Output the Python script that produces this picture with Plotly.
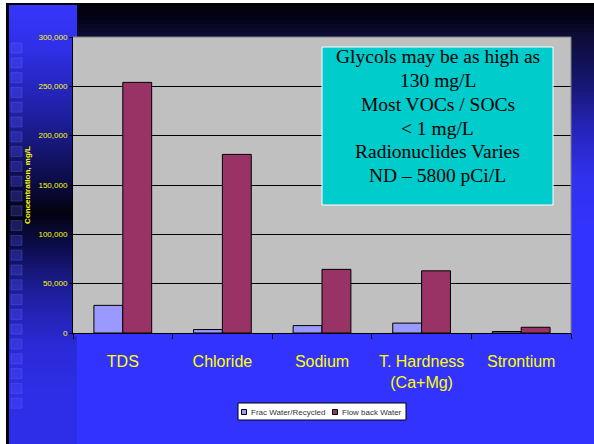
import plotly.graph_objects as go

categories = ["TDS", "Chloride", "Sodium", "T. Hardness<br>(Ca+Mg)", "Strontium"]
frac_water = [28000, 3500, 7500, 10000, 1500]
flowback_water = [254000, 181000, 64500, 63000, 5800]
y_ticks = [0, 50000, 100000, 150000, 200000, 250000, 300000]
series_names = ["Frac Water/Recycled", "Flow back Water"]
series_colors = ["#9999FF", "#993366"]
note_lines = ["Glycols may be as high as", "130 mg/L", "Most VOCs / SOCs",
              "< 1 mg/L", "Radionuclides Varies", "ND \u2013 5800 pCi/L"]

W, H = 594, 444
L, R, T, B = 73, 571, 37, 333


def X(px):
    return (px - L) / (R - L)


def Y(py):
    return (B - py) / (B - T)


def hex2rgb(h):
    h = h.lstrip("#")
    return [int(h[i:i + 2], 16) for i in (0, 2, 4)]


def grad(stops, y):
    for (y0, c0), (y1, c1) in zip(stops, stops[1:]):
        if y0 <= y <= y1:
            t = (y - y0) / (y1 - y0) if y1 > y0 else 0
            a, b = hex2rgb(c0), hex2rgb(c1)
            return "rgb(%d,%d,%d)" % tuple(round(a[i] + (b[i] - a[i]) * t) for i in range(3))
    return stops[-1][1]


shapes = []


def rect(x0, y0, x1, y1, color, line=None, layer="below", lw=0):
    shapes.append(dict(type="rect", xref="paper", yref="paper",
                       x0=X(x0), x1=X(x1), y0=Y(y1), y1=Y(y0),
                       fillcolor=color, layer=layer,
                       line=dict(width=lw, color=line or color)))


left_stops = [(0, "#3737FF"), (50, "#2F2FE6"), (120, "#1E1E9A"), (180, "#0C0C48"),
              (213, "#03030F"), (245, "#0C0C4A"), (295, "#1F1FA0"), (345, "#2A2AD6"),
              (395, "#2E2EE8"), (444, "#2E2EE8")]
right_stops = [(0, "#000006"), (18, "#030318"), (37, "#0C0C38"), (80, "#15156C"),
               (125, "#2424B4"), (175, "#3030EC"), (230, "#3333FF"), (444, "#3333FF")]

step = 4
for y in range(0, 444, step):
    yc = y + step / 2
    x1 = 73 if (y + step > T and y < B) else 77
    rect(9, y, x1, y + step, grad(left_stops, yc))
    if y < T:
        rect(77, y, W + 2, min(y + step, T), grad(right_stops, yc))
    if y < 240 and y + step > T:
        rect(R, max(y, T), W + 2, y + step, grad(right_stops, yc))

# decorative squares column
for i in range(25):
    sy = 43 + i * 14.8
    rect(11, sy, 22, sy + 10, "rgba(90,90,255,0.25)", line="rgba(110,110,255,0.30)", lw=1)

# frame
rect(-2, -2, 6, H + 2, "white")
rect(-2, -2, W + 2, 3, "white")
rect(6, 3, 9, H + 2, "black")
rect(6, 3, W + 2, 5, "black")

# plot border top/right
shapes.append(dict(type="line", xref="paper", yref="paper", x0=0, x1=1, y0=1, y1=1,
                   line=dict(color="#808080", width=1), layer="above"))
shapes.append(dict(type="line", xref="paper", yref="paper", x0=1, x1=1, y0=0, y1=1,
                   line=dict(color="#808080", width=1), layer="above"))

# note box
shapes.append(dict(type="rect", xref="paper", yref="paper", x0=X(322), x1=X(553),
                   y0=Y(205), y1=Y(47), fillcolor="#00CCCC",
                   line=dict(color="white", width=1), layer="above"))

annotations = []
for i, txt in enumerate(note_lines):
    annotations.append(dict(xref="paper", yref="paper", x=X(437.5), y=Y(56.7 + i * 23.8),
                            xanchor="center", yanchor="middle", showarrow=False,
                            text=txt.replace("<", "&lt;"),
                            font=dict(family="Liberation Serif, Times New Roman, serif",
                                      size=19.5, color="black")))

# legend (drawn as box + swatches + text)
shapes.append(dict(type="rect", xref="paper", yref="paper", x0=X(238), x1=X(406),
                   y0=Y(420), y1=Y(403), fillcolor="white",
                   line=dict(color="black", width=1), layer="above"))
leg_sw = [241.5, 332.5]
leg_tx = [248.5, 339.5]
for name, col, sx, tx in zip(series_names, series_colors, leg_sw, leg_tx):
    shapes.append(dict(type="rect", xref="paper", yref="paper", x0=X(sx), x1=X(sx + 5),
                       y0=Y(414.5), y1=Y(409.5), fillcolor=col,
                       line=dict(color="black", width=1), layer="above"))
    annotations.append(dict(xref="paper", yref="paper", x=X(tx), y=Y(412),
                            xanchor="left", yanchor="middle", showarrow=False,
                            text=name, font=dict(size=8, color="#333333",
                                                 family="Arial, Liberation Sans, sans-serif")))

fig = go.Figure()
fig.add_trace(go.Bar(name=series_names[0], x=categories, y=frac_water,
                     marker=dict(color=series_colors[0], line=dict(color="black", width=1))))
fig.add_trace(go.Bar(name=series_names[1], x=categories, y=flowback_water,
                     marker=dict(color=series_colors[1], line=dict(color="black", width=1))))

fig.update_layout(
    width=W, height=H,
    margin=dict(l=L, r=W - R, t=T, b=H - B, pad=0),
    paper_bgcolor="#3333FF", plot_bgcolor="#C0C0C0",
    barmode="group", bargap=0.42, bargroupgap=0,
    font=dict(family="Arial, Liberation Sans, sans-serif", color="#FFFF00"),
    shapes=shapes, annotations=annotations,
    showlegend=False,
)
fig.update_xaxes(showline=True, linecolor="black", linewidth=1, ticks="outside",
                 ticklen=5, tickcolor="black", tickson="boundaries",
                 tickfont=dict(size=16, color="#FFFF00"), ticklabelstandoff=14,
                 showgrid=False)
fig.update_yaxes(range=[0, 300000], tickvals=y_ticks, tickformat=",",
                 showline=True, linecolor="black", linewidth=1, ticks="outside",
                 ticklen=3, tickcolor="black", showgrid=True, gridcolor="black",
                 gridwidth=1, zeroline=False,
                 tickfont=dict(size=8, color="#FFFF00"),
                 title=dict(text="<b>Concentration, mg/L</b>", standoff=6,
                            font=dict(size=8, color="#FFFF00")))

fig.write_html("out.html", config={"displayModeBar": False},
               post_script="document.body.style.margin='0px';document.body.style.overflow='hidden';")
